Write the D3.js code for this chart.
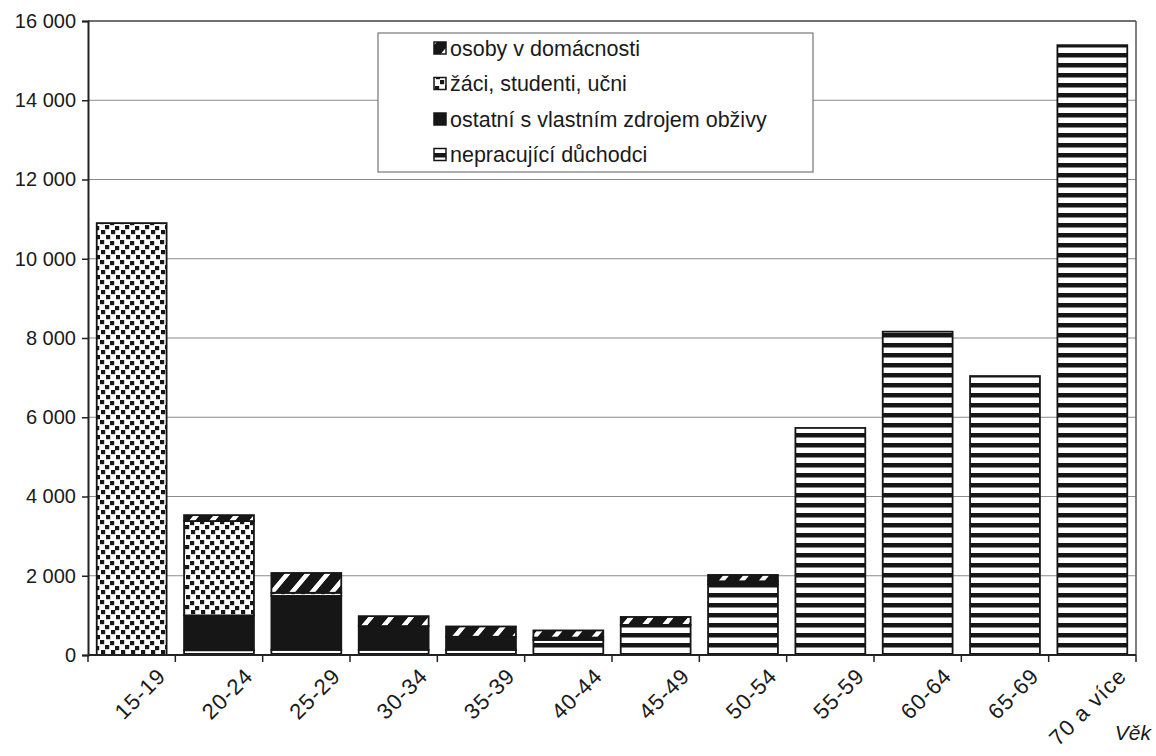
<!DOCTYPE html>
<html><head><meta charset="utf-8">
<script src="https://cdn.jsdelivr.net/npm/d3@7"></script>
<style>
html,body{margin:0;padding:0;background:#fff;}
svg{display:block;font-family:"Liberation Sans",Arial,sans-serif;}
</style></head>
<body><svg id="chart" width="1156" height="756"></svg>
<script>
const categories = ["15-19","20-24","25-29","30-34","35-39","40-44","45-49","50-54","55-59","60-64","65-69","70 a více"];
const nepracujici = [0, 120, 130, 130, 130, 380, 760, 1780, 5730, 8160, 7040, 15390];
const ostatni     = [0, 880, 1360, 600, 330, 60, 0, 80, 0, 0, 0, 0];
const zaci        = [10900, 2380, 80, 0, 0, 0, 0, 0, 0, 0, 0, 0];
const osoby       = [0, 150, 500, 250, 260, 180, 200, 160, 0, 0, 0, 0];
const seriesNames = ["nepracující důchodci","ostatní s vlastním zdrojem obživy","žáci, studenti, učni","osoby v domácnosti"];
const yTicks = [0,2000,4000,6000,8000,10000,12000,14000,16000];
const xTitle = "Věk";

const svg = d3.select("#chart");
const m = {l:88, r:1136, t:21, b:655};
const dark = "#161616";
const txt = "#1a1a1a";

// patterns
const defs = svg.append("defs");
const pStripe = defs.append("pattern").attr("id","pStripe").attr("patternUnits","userSpaceOnUse")
  .attr("x",0).attr("y",3).attr("width",20).attr("height",10);
pStripe.append("rect").attr("width",20).attr("height",10).attr("fill","#fff");
pStripe.append("rect").attr("width",20).attr("height",4.5).attr("fill",dark);

const pSolid = defs.append("pattern").attr("id","pSolid").attr("patternUnits","userSpaceOnUse")
  .attr("width",10).attr("height",10);
pSolid.append("rect").attr("width",10).attr("height",10).attr("fill",dark);

const pConf = defs.append("pattern").attr("id","pConf").attr("patternUnits","userSpaceOnUse")
  .attr("width",20).attr("height",20);
pConf.append("rect").attr("width",20).attr("height",20).attr("fill","#fff");
[[0,0],[10,1],[5,5],[15,6],[1,10],[11,10],[6,15],[16,15]].forEach(([x,y])=>{
  pConf.append("rect").attr("x",x).attr("y",y).attr("width",4.2).attr("height",4.2).attr("fill",dark);
});

const pDiag = defs.append("pattern").attr("id","pDiag").attr("patternUnits","userSpaceOnUse")
  .attr("width",20).attr("height",20).attr("patternTransform","skewX(-40)");
pDiag.append("rect").attr("width",20).attr("height",20).attr("fill",dark);
pDiag.append("rect").attr("x",6).attr("y",0).attr("width",6).attr("height",20).attr("fill","#fff");

const fills = ["url(#pStripe)","url(#pSolid)","url(#pConf)","url(#pDiag)"];

const x = d3.scaleBand().domain(categories).range([m.l,m.r]).paddingInner(0.2).paddingOuter(0.1);
const y = d3.scaleLinear().domain([0,16000]).range([m.b,m.t]);

// gridlines
svg.append("g").selectAll("line").data(yTicks.filter(d=>d>0)).join("line")
  .attr("x1",m.l).attr("x2",m.r).attr("y1",d=>y(d)).attr("y2",d=>y(d))
  .attr("stroke","#8a8a8a").attr("stroke-width",1);
svg.append("line").attr("x1",m.r).attr("x2",m.r).attr("y1",m.t).attr("y2",m.b)
  .attr("stroke","#555").attr("stroke-width",1.5);
svg.append("line").attr("x1",m.l).attr("x2",m.r).attr("y1",m.t).attr("y2",m.t)
  .attr("stroke","#555").attr("stroke-width",1.5);

// stacked data
const rows = categories.map((c,i)=>({cat:c, s0:nepracujici[i], s1:ostatni[i], s2:zaci[i], s3:osoby[i]}));
const stack = d3.stack().keys(["s0","s1","s2","s3"])(rows);

const gBars = svg.append("g");
stack.forEach((layer,li)=>{
  gBars.append("g").selectAll("rect").data(layer.filter(d=>d[1]-d[0]>0)).join("rect")
    .attr("x",d=>x(d.data.cat)).attr("width",x.bandwidth())
    .attr("y",d=>y(d[1])).attr("height",d=>y(d[0])-y(d[1]))
    .attr("fill",fills[li]).attr("stroke",dark).attr("stroke-width",1.8);
});

// axes
const fmt = d3.formatLocale({decimal:",",thousands:"\u00a0",grouping:[3],currency:["",""]}).format(",d");
const yAxis = d3.axisLeft(y).tickValues(yTicks).tickSize(6).tickPadding(6).tickFormat(fmt);
const gy = svg.append("g").attr("transform",`translate(${m.l},0)`).call(yAxis);
gy.select(".domain").attr("stroke","#222").attr("stroke-width",2);
gy.selectAll(".tick line").attr("stroke","#222").attr("stroke-width",1.5);
gy.selectAll("text").attr("font-size",20).attr("fill",txt);

svg.append("line").attr("x1",m.l).attr("x2",m.r).attr("y1",m.b).attr("y2",m.b)
  .attr("stroke","#222").attr("stroke-width",2);
const bounds = d3.range(categories.length+1).map(i=>m.l + i*(m.r-m.l)/categories.length);
svg.append("g").selectAll("line").data(bounds).join("line")
  .attr("x1",d=>d).attr("x2",d=>d).attr("y1",m.b).attr("y2",m.b+7)
  .attr("stroke","#222").attr("stroke-width",1.5);

svg.append("g").selectAll("text").data(categories).join("text")
  .attr("transform",d=>`translate(${x(d)+x.bandwidth()/2+30},${m.b+17}) rotate(-45)`)
  .attr("text-anchor","end").attr("dy","0.35em").attr("letter-spacing",1)
  .attr("font-size",22).attr("fill",txt).text(d=>d);

svg.append("text").attr("x",1151).attr("y",740).attr("text-anchor","end")
  .attr("font-size",21).attr("font-style","italic").attr("fill",txt).text(xTitle);

// legend
const lg = svg.append("g");
lg.append("rect").attr("x",378).attr("y",33).attr("width",435).attr("height",139)
  .attr("fill","#fff").attr("stroke","#777").attr("stroke-width",1.2);
const legendOrder = [3,2,1,0];
legendOrder.forEach((si,k)=>{
  const yy = 48 + k*35.5;
  lg.append("rect").attr("x",434).attr("y",yy-6).attr("width",12).attr("height",12)
    .attr("fill",fills[si]).attr("stroke",dark).attr("stroke-width",1.5);
  lg.append("text").attr("x",450).attr("y",yy).attr("dy","0.36em")
    .attr("font-size",21.5).attr("fill",txt).text(seriesNames[si]);
});
</script></body></html>
